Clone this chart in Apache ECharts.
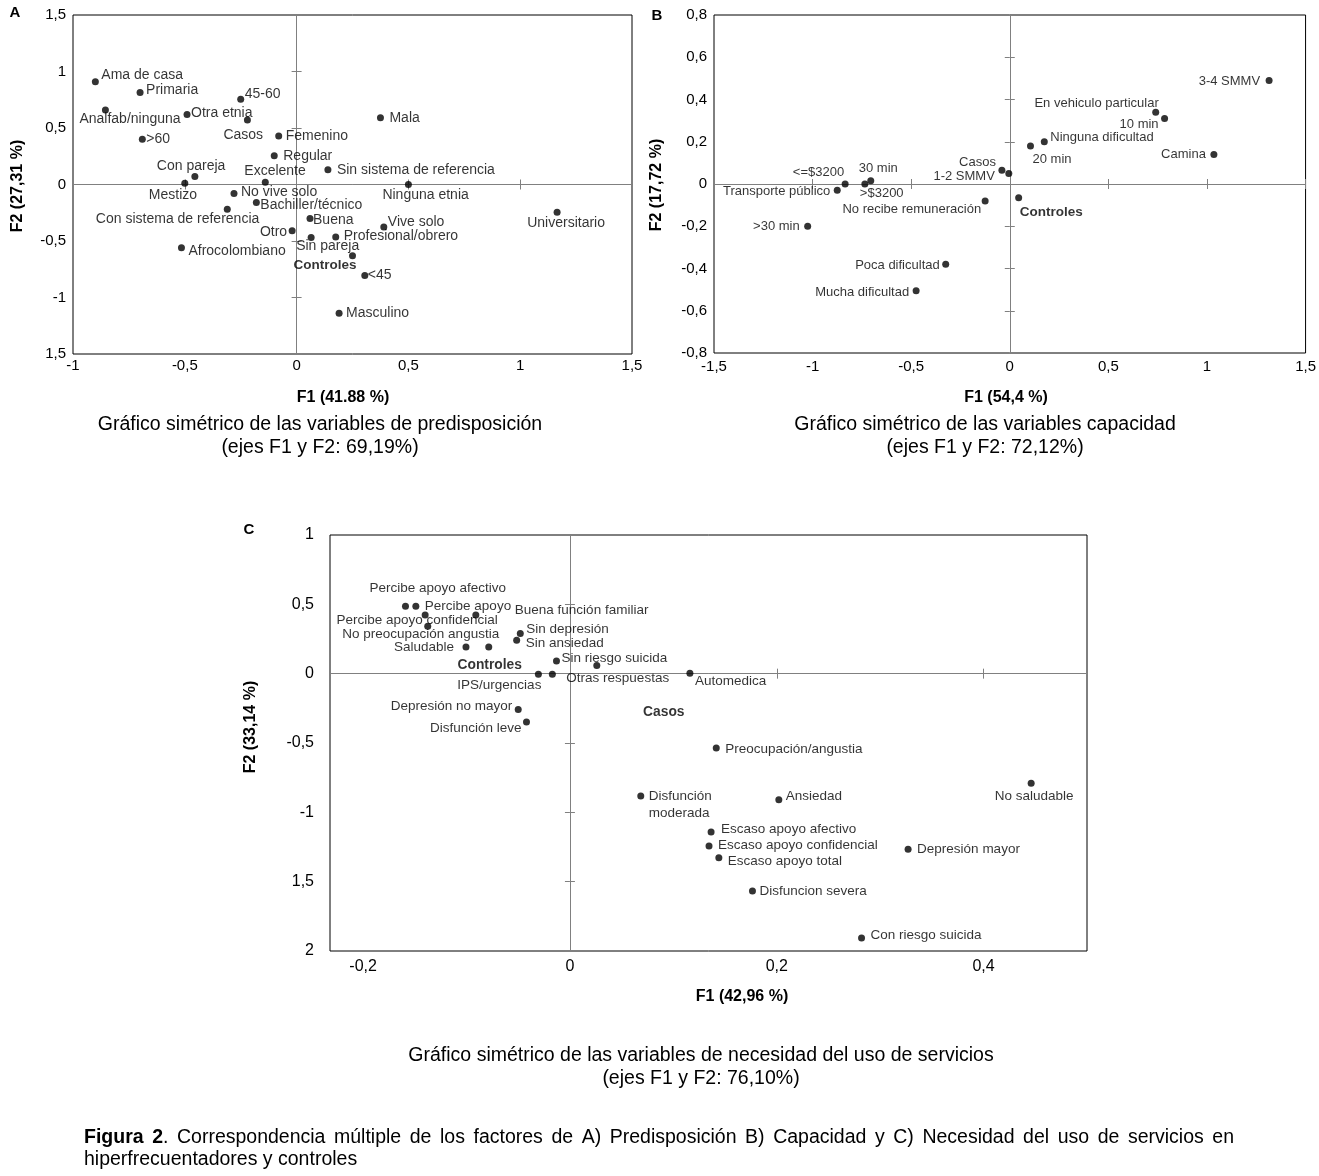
<!DOCTYPE html>
<html><head><meta charset="utf-8">
<script src="https://cdn.jsdelivr.net/npm/echarts@6.0.0/dist/echarts.min.js"></script>
<style>html,body{margin:0;padding:0;background:#fff}#c{width:1319px;height:1176px}</style>
</head><body><div id="c"></div>
<script>
const FONT = '"Liberation Sans", Arial, sans-serif';

// ---------- Panel A: predisposición ----------
const namesA = ['Ama de casa','Primaria','Analfab/ninguna','Otra etnia','45-60','Casos','>60','Femenino','Regular','Con pareja','Mestizo','Excelente','Sin sistema de referencia','Mala','Ninguna etnia','No vive solo','Bachiller/técnico','Con sistema de referencia','Otro','Buena','Sin pareja','Profesional/obrero','Controles','Vive solo','<45','Masculino','Universitario','Afrocolombiano'];
const f1A = [-0.90,-0.70,-0.855,-0.49,-0.25,-0.22,-0.69,-0.08,-0.10,-0.455,-0.50,-0.14,0.14,0.375,0.50,-0.28,-0.18,-0.31,-0.02,0.06,0.065,0.175,0.25,0.39,0.305,0.19,1.165,-0.515];
const f2A = [0.91,0.815,0.66,0.62,0.755,0.57,0.40,0.43,0.255,0.07,0.01,0.02,0.13,0.59,0.0,-0.08,-0.16,-0.22,-0.41,-0.30,-0.47,-0.465,-0.63,-0.375,-0.805,-1.14,-0.245,-0.56];
const xTickValsA = [-1,-0.5,0,0.5,1,1.5];
const xTickTextA = ['-1','-0,5','0','0,5','1','1,5'];
const yTickValsA = [-1.5,-1,-0.5,0,0.5,1,1.5];
const yTickTextA = ['1,5','-1','-0,5','0','0,5','1','1,5'];

// ---------- Panel B: capacidad ----------
const namesB = ['3-4 SMMV','En vehiculo particular','10 min','Ninguna dificultad','20 min','Camina','Casos','1-2 SMMV','Controles','No recibe remuneración','<=$3200','30 min','>$3200','Transporte público','>30 min','Poca dificultad','Mucha dificultad'];
const f1B = [1.315,0.74,0.785,0.175,0.105,1.035,-0.04,-0.005,0.045,-0.125,-0.835,-0.705,-0.735,-0.875,-1.025,-0.325,-0.475];
const f2B = [0.49,0.34,0.31,0.20,0.18,0.14,0.065,0.05,-0.065,-0.08,0.0,0.015,0.0,-0.03,-0.20,-0.38,-0.505];
const xTickValsB = [-1.5,-1,-0.5,0,0.5,1,1.5];
const xTickTextB = ['-1,5','-1','-0,5','0','0,5','1','1,5'];
const yTickValsB = [-0.8,-0.6,-0.4,-0.2,0,0.2,0.4,0.6,0.8];
const yTickTextB = ['-0,8','-0,6','-0,4','-0,2','0','0,2','0,4','0,6','0,8'];

// ---------- Panel C: necesidad ----------
const namesC = ['Percibe apoyo afectivo','Percibe apoyo','Buena función familiar','Percibe apoyo confidencial','No preocupación angustia','Saludable','Controles','Sin depresión','Sin ansiedad','Sin riesgo suicida','Casos','IPS/urgencias','Otras respuestas','Depresión no mayor','Disfunción leve','Automedica','Preocupación/angustia','Disfunción\nmoderada','Ansiedad','No saludable','Escaso apoyo afectivo','Escaso apoyo confidencial','Escaso apoyo total','Depresión mayor','Disfuncion severa','Con riesgo suicida'];
const f1C = [-0.159,-0.149,-0.091,-0.140,-0.1375,-0.1005,-0.0785,-0.048,-0.0515,-0.013,0.026,-0.0305,-0.017,-0.050,-0.042,0.116,0.1415,0.0685,0.202,0.446,0.1365,0.1345,0.144,0.327,0.1765,0.282];
const f2C = [0.486,0.486,0.423,0.423,0.342,0.193,0.193,0.289,0.241,0.092,0.058,-0.004,-0.004,-0.259,-0.348,0.003,-0.536,-0.882,-0.910,-0.790,-1.141,-1.242,-1.328,-1.266,-1.567,-1.906];
const xTickValsC = [-0.2,0,0.2,0.4];
const xTickTextC = ['-0,2','0','0,2','0,4'];
const yTickValsC = [-2,-1.5,-1,-0.5,0,0.5,1];
const yTickTextC = ['2','1,5','-1','-0,5','0','0,5','1'];

// ---------- label placement (style): [align, dx, dy] from dot centre ----------
const placeA = {
 'Ama de casa':['left',6,-7],'Primaria':['left',6,-2],'Analfab/ninguna':['left',-26,9],'Otra etnia':['left',4,-1],
 '45-60':['left',4,-5],'Casos':['left',-24,15],'>60':['left',4,0],'Femenino':['left',7,0],'Regular':['left',9,0],
 'Con pareja':['left',-38,-10],'Mestizo':['left',-36,12],'Excelente':['left',-21,-11],'Sin sistema de referencia':['left',9,0],
 'Mala':['left',9,0],'Ninguna etnia':['left',-26,11],'No vive solo':['left',7,-1],'Bachiller/técnico':['left',4,3],
 'Con sistema de referencia':['right',32,10],'Otro':['right',-5,1],'Buena':['left',3,2],'Sin pareja':['left',-15,9],
 'Profesional/obrero':['left',8,-1],'Controles':['right',4,10],'Vive solo':['left',4,-5],'<45':['left',3,0],
 'Masculino':['left',7,0],'Universitario':['center',9,11],'Afrocolombiano':['left',7,3]
};
const placeB = {
 '3-4 SMMV':['right',-9,1],'En vehiculo particular':['right',3,-9],'10 min':['right',-6,6],'Ninguna dificultad':['left',6,-4],
 '20 min':['left',2,13],'Camina':['right',-8,0],'Casos':['right',-6,-8],'1-2 SMMV':['right',-14,3],'Controles':['left',1,15],
 'No recibe remuneración':['right',-4,9],'<=$3200':['right',-1,-12],'30 min':['left',-12,-12],'>$3200':['left',-5,9],
 'Transporte público':['right',-7,1],'>30 min':['right',-8,0],'Poca dificultad':['right',-6,1],'Mucha dificultad':['right',-7,2]
};
const placeC = {
 'Percibe apoyo afectivo':['left',-36,-18],'Percibe apoyo':['left',9,0],'Buena función familiar':['left',39,-5],
 'Percibe apoyo confidencial':['center',-8,5],'No preocupación angustia':['center',-7,8],'Saludable':['right',-12,0],
 'Controles':['center',1,18],'Sin depresión':['left',6,-4],'Sin ansiedad':['left',9,3],'Sin riesgo suicida':['left',5,-3],
 'Casos':['center',67,47],'IPS/urgencias':['right',3,11],'Otras respuestas':['left',14,4],'Depresión no mayor':['right',-6,-3],
 'Disfunción leve':['right',-5,6],'Automedica':['left',5,8],'Preocupación/angustia':['left',9,1],'Disfunción\nmoderada':['left',8,9],
 'Ansiedad':['left',7,-4],'No saludable':['center',3,13],'Escaso apoyo afectivo':['left',10,-3],'Escaso apoyo confidencial':['left',9,-1],
 'Escaso apoyo total':['left',9,3],'Depresión mayor':['left',9,0],'Disfuncion severa':['left',7,0],'Con riesgo suicida':['left',9,-3]
};

const panels = [
 {grid:{left:73,top:15,width:559,height:339}, x:[-1,1.5], y:[-1.5,1.5], names:namesA, f1:f1A, f2:f2A,
  xv:xTickValsA, xt:xTickTextA, yv:yTickValsA, yt:yTickTextA, zx:xTickValsA, zy:yTickValsA,
  place:placeA, fs:14, boldFs:13.5, bold:['Controles'], tickFs:15, xMargin:4, yMargin:7},
 {grid:{left:714,top:15,width:593,height:338}, x:[-1.5,1.5], y:[-0.8,0.8], names:namesB, f1:f1B, f2:f2B,
  xv:xTickValsB, xt:xTickTextB, yv:yTickValsB, yt:yTickTextB, zx:xTickValsB, zy:yTickValsB,
  place:placeB, fs:13, boldFs:13.5, bold:['Controles'], tickFs:15, xMargin:6, yMargin:7},
 {grid:{left:330,top:535,width:757,height:416}, x:[-0.232,0.5], y:[-2,1], names:namesC, f1:f1C, f2:f2C,
  xv:xTickValsC, xt:xTickTextC, yv:yTickValsC, yt:yTickTextC, zx:[0.2,0.4], zy:yTickValsC,
  place:placeC, fs:13.5, boldFs:13.8, bold:['Controles','Casos'], tickFs:16, xMargin:8, yMargin:16}
];

const grids=[], xAxes=[], yAxes=[], series=[];
const fmt=(vals,texts)=>v=>{const i=vals.findIndex(t=>Math.abs(t-v)<1e-6);return i<0?'':texts[i];};
const ZC='#808080';
panels.forEach((p,g)=>{
  grids.push(Object.assign({show:true,borderColor:'#000',borderWidth:1,backgroundColor:'transparent',containLabel:false},p.grid));
  const base=(dim,range)=>({type:'value',gridIndex:g,min:range[0],max:range[1],splitLine:{show:false},position:dim==='x'?'bottom':'left'});
  // label axes
  xAxes.push(Object.assign(base('x',p.x),{axisLine:{show:false,onZero:false},axisTick:{show:false},
    axisLabel:{customValues:p.xv,formatter:fmt(p.xv,p.xt),fontSize:p.tickFs,fontFamily:FONT,color:'#000',margin:p.xMargin,hideOverlap:false}}));
  yAxes.push(Object.assign(base('y',p.y),{axisLine:{show:false,onZero:false},axisTick:{show:false},
    axisLabel:{customValues:p.yv,formatter:fmt(p.yv,p.yt),fontSize:p.tickFs,fontFamily:FONT,color:'#000',margin:p.yMargin,hideOverlap:false}}));
  // zero-line axes (ticks on both sides)
  [true,false].forEach(inside=>{
    xAxes.push(Object.assign(base('x',p.x),{axisLine:{show:true,onZero:true,onZeroAxisIndex:3*g,lineStyle:{color:ZC,width:1}},
      axisTick:{show:true,inside:inside,length:5,customValues:p.zx,lineStyle:{color:ZC,width:1}},axisLabel:{show:false}}));
    yAxes.push(Object.assign(base('y',p.y),{axisLine:{show:true,onZero:true,onZeroAxisIndex:3*g,lineStyle:{color:ZC,width:1}},
      axisTick:{show:true,inside:inside,length:5,customValues:p.zy,lineStyle:{color:ZC,width:1}},axisLabel:{show:false}}));
  });
  series.push({type:'scatter',xAxisIndex:3*g,yAxisIndex:3*g,symbol:'circle',symbolSize:7,silent:true,z:5,
    itemStyle:{color:'#000'},
    label:{show:true,position:'right',distance:0,formatter:'{b}',color:'#000',fontSize:p.fs,fontFamily:FONT,
      verticalAlign:'middle',lineHeight:p.fs+4,textBorderWidth:0},
    data:p.names.map((n,i)=>{const pl=p.place[n]||['left',5,0];const b=p.bold.includes(n);
      return {name:n,value:[p.f1[i],p.f2[i]],label:{align:pl[0],offset:[pl[1]-3.5,pl[2]],fontWeight:b?'bold':'normal',fontSize:b?p.boldFs:p.fs}};})
  });
});

// ---------- texts ----------
const CAP=19.5;
function txt(t,x,y,o){o=o||{};return {type:'text',x:x,y:y,rotation:o.rot||0,z:10,silent:true,
  style:{text:t,x:0,y:0,align:o.align||'center',verticalAlign:'middle',fontSize:o.fs||CAP,fontWeight:o.bold?'bold':'normal',fontFamily:FONT,fill:'#000'}};}
const els=[
  txt('A',15,13,{fs:15,bold:true}), txt('B',657,16,{fs:15,bold:true}), txt('C',249,530,{fs:15,bold:true}),
  txt('F1 (41.88 %)',343,398,{fs:16,bold:true}), txt('F2 (27,31 %)',18,186,{fs:16,bold:true,rot:Math.PI/2}),
  txt('F1 (54,4 %)',1006,398,{fs:16,bold:true}), txt('F2 (17,72 %)',657,185,{fs:16,bold:true,rot:Math.PI/2}),
  txt('F1 (42,96 %)',742,997,{fs:16,bold:true}), txt('F2 (33,14 %)',251,727,{fs:16,bold:true,rot:Math.PI/2}),
  txt('Gráfico simétrico de las variables de predisposición',320,425), txt('(ejes F1 y F2: 69,19%)',320,448),
  txt('Gráfico simétrico de las variables capacidad',985,425), txt('(ejes F1 y F2: 72,12%)',985,448),
  txt('Gráfico simétrico de las variables de necesidad del uso de servicios',701,1056), txt('(ejes F1 y F2: 76,10%)',701,1079),
  txt('hiperfrecuentadores y controles',84,1160,{align:'left'})
];
// justified first caption line
const cv=document.createElement('canvas').getContext('2d');
const mw=(t,b)=>{cv.font=(b?'bold ':'')+CAP+'px "Liberation Sans"';return cv.measureText(t).width;};
const capWords='Correspondencia múltiple de los factores de A) Predisposición B) Capacidad y C) Necesidad del uso de servicios en'.split(' ');
let used=mw('Figura',true)+mw('2',true)+mw('.',false); capWords.forEach(w=>used+=mw(w,false));
const nSp=capWords.length+1; const sW=(1150-used)/nSp;
const rich='{b|Figura}{s| }{b|2}{n|.}'+capWords.map(w=>'{s| }{n|'+w+'}').join('');
els.push({type:'text',x:84,y:1138,z:10,silent:true,style:{text:rich,x:0,y:0,align:'left',verticalAlign:'middle',fontSize:CAP,fontFamily:FONT,fill:'#000',
  rich:{b:{fontWeight:'bold',fontSize:CAP,fontFamily:FONT,fill:'#000'},n:{fontSize:CAP,fontFamily:FONT,fill:'#000'},s:{width:sW,fontSize:CAP,fontFamily:FONT}}}});

const chart=echarts.init(document.getElementById('c'),null,{renderer:'canvas'});
chart.setOption({animation:false,backgroundColor:'#fff',grid:grids,xAxis:xAxes,yAxis:yAxes,series:series,graphic:{elements:els}});
</script></body></html>
